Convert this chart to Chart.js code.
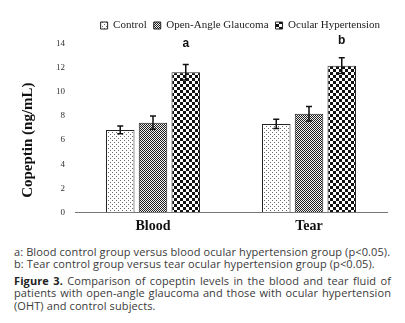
<!DOCTYPE html>
<html lang="en">

<head>
    <meta charset="UTF-8">
    <title>Copeptin levels</title>
    <style>
        body {
            background-color: #ffffff;
            margin: 0;
            padding: 0;
        }

        .chart-box {
            position: absolute;
            left: 0;
            top: 0;
            width: 405px;
            height: 241px;
        }

        .caption {
            position: absolute;
            left: 14px;
            top: 246px;
            width: 377px;
            font-family: "Open Sans", sans-serif;
            font-size: 11px;
            letter-spacing: 0.1px;
            color: #3a3a3a;
        }

        .caption p {
            margin: 0;
            line-height: 12.4px;
        }

        .caption .fig {
            margin-top: 4px;
            text-align: justify;
        }

        .caption b {
            color: #222;
        }
    </style>
    <script src="https://cdn.jsdelivr.net/npm/chart.js@4"></script>
</head>

<body>
    <div class="chart-box">
        <canvas id="barChart"></canvas>
    </div>
    <div class="caption">
        <p>a: Blood control group versus blood ocular hypertension group (p&lt;0.05).</p>
        <p>b: Tear control group versus tear ocular hypertension group (p&lt;0.05).</p>
        <p class="fig"><b>Figure 3.</b> Comparison of copeptin levels in the blood and tear fluid of
            patients with open-angle glaucoma and those with ocular hypertension (OHT) and control subjects.</p>
    </div>
    <script>
        // data
        const categories = ["Blood", "Tear"];
        const seriesNames = ["Control", "Open-Angle Glaucoma", "Ocular Hypertension"];
        const controlValues = [6.85, 7.35];
        const controlErrors = [0.33, 0.38];
        const glaucomaValues = [7.45, 8.2];
        const glaucomaErrors = [0.55, 0.6];
        const hypertensionValues = [11.65, 12.2];
        const hypertensionErrors = [0.65, 0.65];
        const yTicks = [0, 2, 4, 6, 8, 10, 12, 14];
        const sigLetters = ["a", "b"];
        const sigLetterY = [14.0, 14.3];

        function makePattern(size, draw) {
            const c = document.createElement("canvas");
            c.width = size;
            c.height = size;
            const g = c.getContext("2d");
            draw(g);
            return g.createPattern(c, "repeat");
        }

        // light dots
        const controlFill = makePattern(4, function (g) {
            g.fillStyle = "#ffffff";
            g.fillRect(0, 0, 4, 4);
            g.fillStyle = "#6a6a6a";
            g.fillRect(0, 0, 1, 1);
            g.fillRect(2, 2, 1, 1);
        });
        // fine checker
        const glaucomaFill = makePattern(2, function (g) {
            g.fillStyle = "#f2f2f2";
            g.fillRect(0, 0, 2, 2);
            g.fillStyle = "#1e1e1e";
            g.fillRect(0, 0, 1, 1);
            g.fillRect(1, 1, 1, 1);
        });
        // large checker
        const hypertensionFill = makePattern(6, function (g) {
            g.fillStyle = "#ffffff";
            g.fillRect(0, 0, 6, 6);
            g.fillStyle = "#111111";
            g.fillRect(0, 0, 3, 3);
            g.fillRect(3, 3, 3, 3);
        });

        const errorsBySeries = [controlErrors, glaucomaErrors, hypertensionErrors];

        // a bit more room under the legend
        const legendGap = {
            id: "legendGap",
            beforeInit(chart) {
                const fit = chart.legend.fit;
                chart.legend.fit = function () {
                    fit.bind(chart.legend)();
                    this.height += 3;
                };
            }
        };

        const errorBarPlugin = {
            id: "errorBars",
            afterDatasetsDraw(chart) {
                const ctx = chart.ctx;
                const y = chart.scales.y;
                ctx.save();
                ctx.strokeStyle = "#111";
                ctx.lineWidth = 1.5;
                chart.data.datasets.forEach(function (ds, i) {
                    const meta = chart.getDatasetMeta(i);
                    meta.data.forEach(function (bar, j) {
                        const v = ds.data[j];
                        const e = errorsBySeries[i][j];
                        const top = y.getPixelForValue(v + e);
                        const bot = y.getPixelForValue(v - e);
                        ctx.beginPath();
                        ctx.moveTo(bar.x, top);
                        ctx.lineTo(bar.x, bot);
                        ctx.moveTo(bar.x - 3, top);
                        ctx.lineTo(bar.x + 3, top);
                        ctx.moveTo(bar.x - 3, bot);
                        ctx.lineTo(bar.x + 3, bot);
                        ctx.stroke();
                    });
                });
                // significance letters over the hypertension bars
                const meta = chart.getDatasetMeta(2);
                ctx.fillStyle = "#111";
                ctx.font = "bold 12px 'Liberation Sans', Arial, sans-serif";
                ctx.textAlign = "center";
                ctx.textBaseline = "middle";
                meta.data.forEach(function (bar, j) {
                    ctx.fillText(sigLetters[j], bar.x, y.getPixelForValue(sigLetterY[j]));
                });
                // y axis title
                const area = chart.chartArea;
                ctx.translate(28, (area.top + area.bottom) / 2 + 12);
                ctx.rotate(-Math.PI / 2);
                ctx.font = "bold 15px 'Liberation Serif', 'Times New Roman', serif";
                ctx.fillText("Copeptin (ng/mL)", 0, 0);
                ctx.restore();
            }
        };

        const barChart = new Chart(document.getElementById("barChart"), {
            type: "bar",
            data: {
                labels: categories,
                datasets: [
                    {
                        label: seriesNames[0],
                        data: controlValues,
                        backgroundColor: controlFill,
                        borderColor: "#222",
                        borderWidth: 1,
                    },
                    {
                        label: seriesNames[1],
                        data: glaucomaValues,
                        backgroundColor: glaucomaFill,
                        borderColor: "#222",
                        borderWidth: 1,
                    },
                    {
                        label: seriesNames[2],
                        data: hypertensionValues,
                        backgroundColor: hypertensionFill,
                        borderColor: "#222",
                        borderWidth: 1,
                    },
                ],
            },
            options: {
                responsive: true,
                maintainAspectRatio: false,
                animation: false,
                categoryPercentage: 0.63,
                barPercentage: 0.87,
                layout: {
                    padding: { top: 13, right: 18, bottom: 0, left: 0 },
                },
                plugins: {
                    legend: {
                        position: "top",
                        align: "end",
                        labels: {
                            boxWidth: 7,
                            boxHeight: 7,
                            padding: 7,
                            color: "#222",
                            font: { family: "'Liberation Serif', 'Times New Roman', serif", size: 11 },
                        },
                    },
                    tooltip: { enabled: false },
                },
                scales: {
                    x: {
                        grid: { display: false, drawTicks: false },
                        border: { display: true, color: "#777", width: 1 },
                        ticks: {
                            padding: 6,
                            color: "#111",
                            font: { family: "'Liberation Serif', 'Times New Roman', serif", size: 14, weight: "bold" },
                        },
                    },
                    y: {
                        min: 0,
                        max: 14,
                        afterFit: function (scale) {
                            scale.width = 75;
                        },
                        afterBuildTicks: function (scale) {
                            scale.ticks = yTicks.map(function (v) { return { value: v }; });
                        },
                        grid: { display: false, drawTicks: false },
                        border: { display: false },
                        ticks: {
                            padding: 10,
                            color: "#333",
                            font: { family: "'Liberation Serif', 'Times New Roman', serif", size: 9 },
                        },
                    },
                },
            },
            plugins: [legendGap, errorBarPlugin],
        });
    </script>
</body>

</html>
